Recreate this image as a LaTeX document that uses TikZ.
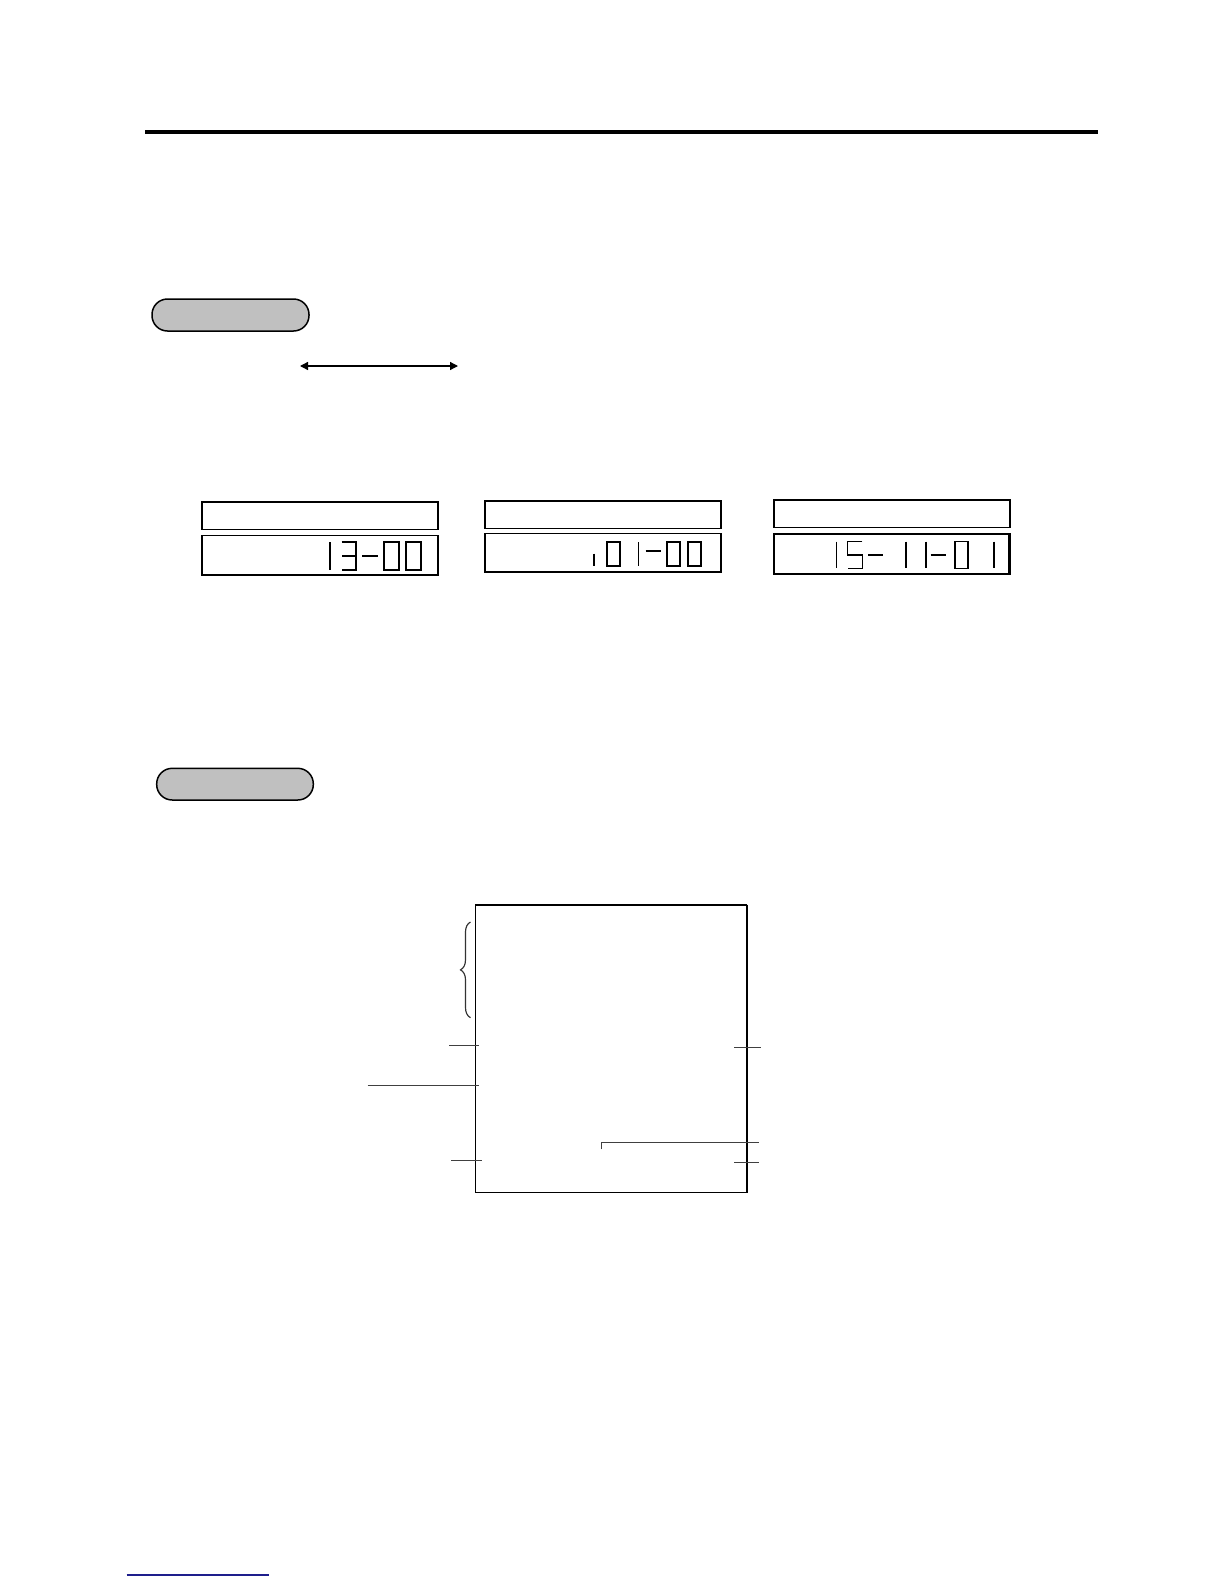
\documentclass[tikz,border=0pt]{standalone}
\usetikzlibrary{arrows.meta,decorations.pathreplacing}
\definecolor{ovalgray}{RGB}{192,192,192}
\definecolor{linkblue}{RGB}{30,30,140}
\begin{document}
\begin{tikzpicture}[x=0.6pt,y=-0.6pt,
  pill/.style={draw=black,line width=0.9pt,fill=ovalgray,rounded corners=9.3pt},
  dispbox/.style={draw=black,line width=0.9pt},
  seg/.style={line width=0.7pt},
  segb/.style={line width=1.1pt},
  rline/.style={line width=0.8pt,draw=black!75},
  arr/.style={line width=0.8pt,{Triangle[length=4.8pt,width=4.8pt]}-{Triangle[length=4.8pt,width=4.8pt]}}]
\useasboundingbox (0,0) rectangle (1224,1584);
% header rule
\draw[line width=2.7pt] (145,132) -- (1098,132);
% first oval
\draw[pill] (152,299) rectangle (309,331);
% double arrow
\coordinate (aL) at (300,366);
\coordinate (aR) at (458,366);
\draw[arr] (aL) -- (aR);
% display 1
\draw[dispbox] (202,502) rectangle (438,529.5);
\draw[dispbox] (202,535.5) rectangle (438,575);
\draw[seg] (330,542)--(330,570);
\draw[seg] (341.5,542)--(356,542)--(356,570)--(341.5,570) (342,556)--(356,556);
\draw[seg] (362,556)--(377.7,556);
\draw[seg] (384,542) rectangle (399,570);
\draw[seg] (406,542) rectangle (421,570);
% display 2
\draw[dispbox] (485,501) rectangle (721,528.5);
\draw[dispbox] (485,533.5) rectangle (721,572);
\draw[segb] (594,553.5)--(594,565.5);
\draw[segb] (606.7,542) rectangle (620,566);
\draw[seg] (638.3,542)--(638.3,566);
\draw[seg] (645.7,551)--(661,551);
\draw[segb] (667.3,542) rectangle (680,566);
\draw[segb] (687.7,542) rectangle (700.7,566);
% display 3
\draw[dispbox] (774,500) rectangle (1010,527.3);
\draw[dispbox,line width=1.3pt] (774,534) rectangle (1009.5,574);
\draw[seg] (836.7,541.7)--(836.7,568.3);
\draw[seg] (862.3,541.7)--(847.7,541.7)--(847.7,555)--(862.3,555)--(862.3,568.3)--(847.7,568.3);
\draw[seg] (868,555)--(882.7,555);
\draw[seg] (906,541.7)--(906,568.3);
\draw[seg] (926,541.7)--(926,568.3);
\draw[seg] (930.7,555)--(946,555);
\draw[seg] (955,541.7) rectangle (968,568.3);
\draw[seg] (994,541.7)--(994,568.3);
% second oval
\draw[pill] (156.7,768.3) rectangle (313.3,800);
% receipt
\draw[line width=0.8pt] (746.7,905) -- (475.3,905) -- (475.3,1192.3) -- (746.7,1192.3);
\draw[line width=1.4pt] (746.7,904.6) -- (746.7,1192.7);
\draw[line width=0.7pt,draw=black!80,decorate,decoration={brace,amplitude=6pt}] (470.5,1017.7) -- (470.5,922);
\draw[rline] (449,1045.7) -- (479,1045.7);
\draw[rline] (367.7,1085.7) -- (479,1085.7);
\draw[rline] (451,1160.7) -- (481.7,1160.7);
\draw[rline] (734,1047.7) -- (761,1047.7);
\draw[rline] (601.7,1149.3) -- (601.7,1142.7) -- (759,1142.7);
\draw[rline] (734,1162.7) -- (759,1162.7);
% bottom link rule
\draw[linkblue,line width=0.8pt] (126.7,1575) -- (269,1575);
\end{tikzpicture}
\end{document}
